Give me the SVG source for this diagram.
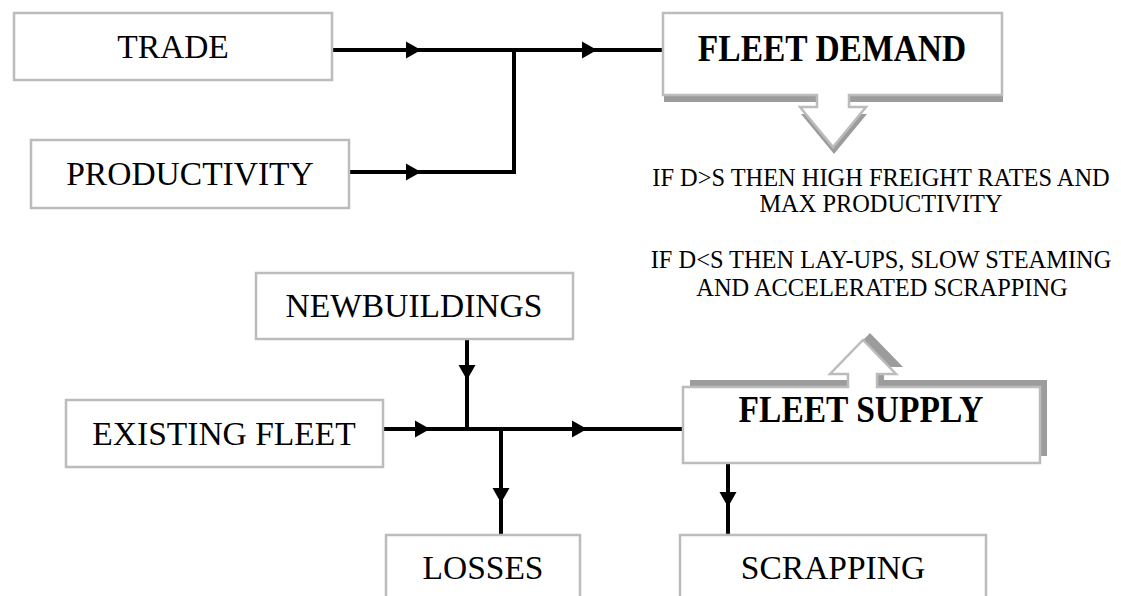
<svg xmlns="http://www.w3.org/2000/svg" xmlns:xlink="http://www.w3.org/1999/xlink" width="1121" height="596" viewBox="0 0 1121 596">
<style>
.box{fill:#fff;stroke:#bcbcbc;stroke-width:2.5}
.shadow{fill:#9c9c9c;stroke:none}
.lbl{font-family:"Liberation Serif","Times New Roman",serif;font-size:33.5px;fill:#000;text-anchor:middle}
.bold{font-weight:bold}
.note{font-family:"Liberation Serif","Times New Roman",serif;font-size:24.4px;fill:#000;text-anchor:middle}
.wire{fill:none;stroke:#000;stroke-width:4}
</style>
<defs>
<path id="ah" d="M0,0 L-15,-8.5 L-15,8.5 Z" fill="#000"/>
<path id="demandShape" d="M663,13 H1002 V95 H849 V107 H866 L833,147 L800,107 H817 V95 H663 Z"/>
<path id="supplyShape" d="M683,387 H848 V374 H830 L863,340 L896,374 H877 V387 H1040 V463 H683 Z"/>
</defs>
<rect width="1121" height="596" fill="#fff"/>

<g id="connectors">
<path class="wire" d="M332,50 H663"/>
<path class="wire" d="M349,172 H514 V48"/>
<path class="wire" d="M383,429 H683"/>
<path class="wire" d="M467,339 V431"/>
<path class="wire" d="M501,427 V535"/>
<path class="wire" d="M728,463 V535"/>
<use xlink:href="#ah" transform="translate(421,50)"/>
<use xlink:href="#ah" transform="translate(597,50)"/>
<use xlink:href="#ah" transform="translate(421,172)"/>
<use xlink:href="#ah" transform="translate(430,429)"/>
<use xlink:href="#ah" transform="translate(587,429)"/>
<use xlink:href="#ah" transform="translate(467,380) rotate(90)"/>
<use xlink:href="#ah" transform="translate(501,503) rotate(90)"/>
<use xlink:href="#ah" transform="translate(728,507) rotate(90)"/>
</g>

<g id="trade">
<rect class="box" x="14" y="13" width="318" height="67"/>
<text class="lbl" x="173" y="58">TRADE</text>
</g>

<g id="productivity">
<rect class="box" x="31" y="140" width="318" height="68"/>
<text class="lbl" x="190" y="185">PRODUCTIVITY</text>
</g>

<g id="fleet-demand">
<use xlink:href="#demandShape" class="shadow" transform="translate(1,7)"/>
<use xlink:href="#demandShape" class="box"/>
<text class="lbl bold" transform="translate(832,61) scale(1,1.1)">FLEET DEMAND</text>
</g>

<g id="notes">
<text class="note" x="881" y="186">IF D&gt;S THEN HIGH FREIGHT RATES AND</text>
<text class="note" x="881" y="212">MAX PRODUCTIVITY</text>
<text class="note" x="881" y="268">IF D&lt;S THEN LAY-UPS, SLOW STEAMING</text>
<text class="note" x="882" y="296">AND ACCELERATED SCRAPPING</text>
</g>

<g id="newbuildings">
<rect class="box" x="256" y="273" width="317" height="66"/>
<text class="lbl" x="414" y="317">NEWBUILDINGS</text>
</g>

<g id="existing-fleet">
<rect class="box" x="66" y="400" width="317" height="67"/>
<text class="lbl" x="224" y="445">EXISTING FLEET</text>
</g>

<g id="fleet-supply">
<use xlink:href="#supplyShape" class="shadow" transform="translate(7,-7)"/>
<use xlink:href="#supplyShape" class="box"/>
<text class="lbl bold" transform="translate(861,422) scale(1,1.1)">FLEET SUPPLY</text>
</g>

<g id="losses">
<rect class="box" x="386" y="535" width="194" height="80"/>
<text class="lbl" x="483" y="579">LOSSES</text>
</g>

<g id="scrapping">
<rect class="box" x="680" y="535" width="306" height="80"/>
<text class="lbl" x="833" y="579">SCRAPPING</text>
</g>
</svg>
